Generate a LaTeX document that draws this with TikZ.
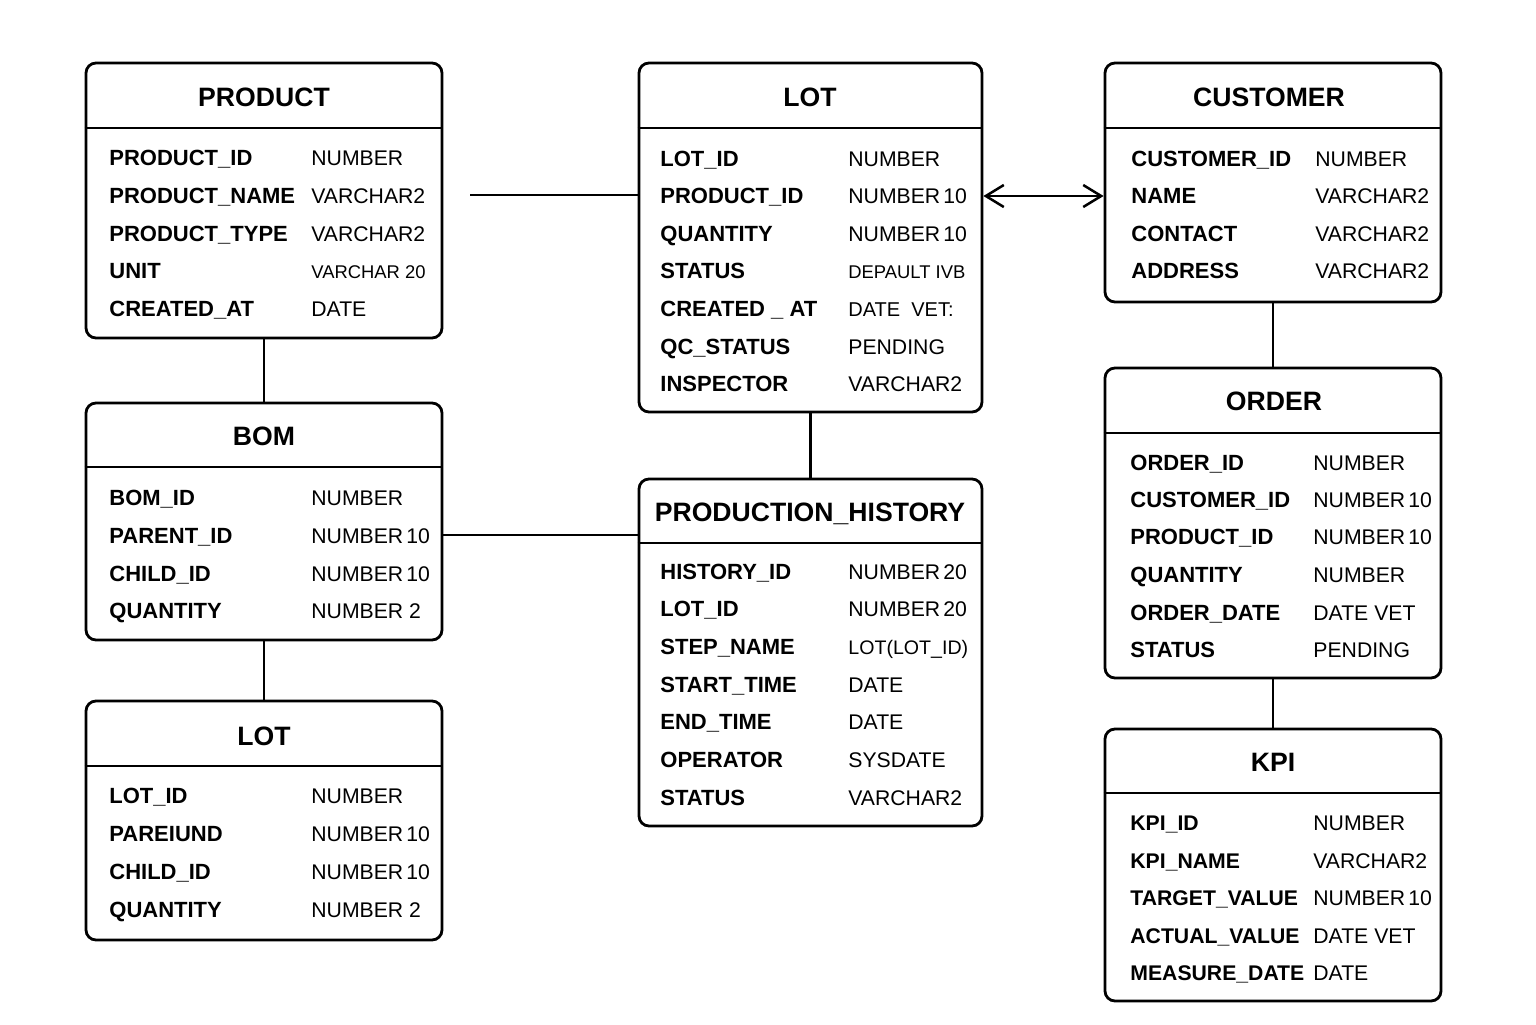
\documentclass[tikz,border=0pt]{standalone}
\usepackage{fontspec}
\setmainfont{Liberation Sans}
\usetikzlibrary{fit,arrows.meta}
\newcommand{\tsm}{\fontsize{9.2}{10}\selectfont}
\newcommand{\tmd}{\fontsize{10}{11}\selectfont}
\newcommand{\tlo}{\fontsize{9.8}{11}\selectfont}
\newcommand{\ksm}{\fontsize{10.6}{12}\selectfont}
\newcommand{\nten}{NUMBER\kern1.5pt 10}
\newcommand{\ntw}{NUMBER\kern1.5pt 20}
\tikzset{
  entbox/.style={draw, line width=1.4pt, rounded corners=5pt, inner sep=0pt},
  hline/.style={line width=1.4pt},
  ftitle/.style={font=\fontsize{13.3}{15}\selectfont\bfseries, anchor=base, inner sep=0pt},
  fname/.style={font=\fontsize{11}{13}\selectfont\bfseries, anchor=base west, inner sep=0pt},
  ftype/.style={font=\fontsize{10.6}{13}\selectfont, anchor=base west, inner sep=0pt},
  conn/.style={line width=1.25pt},
  biarrow/.style={conn, {Straight Barb[length=9pt,width=11pt,line width=1.25pt]}-{Straight Barb[length=9pt,width=11pt,line width=1.25pt]}}
}
\begin{document}
\begin{tikzpicture}[x=0.5pt,y=-0.5pt]
\useasboundingbox (0,0) rectangle (1536,1024);
\fill[white] (0,0) rectangle (1536,1024);

% ---------- PRODUCT ----------
\node[entbox, fit={(86,63) (442,338)}] (product) {};
\draw[hline] (product.west |- 0,128) -- (product.east |- 0,128);
\node[ftitle] (product-t) at (264,106) {PRODUCT};
\foreach \y/\n/\t [count=\i] in {157/PRODUCT\_ID/NUMBER, 195/PRODUCT\_NAME/VARCHAR2, 233/PRODUCT\_TYPE/VARCHAR2, 270/UNIT/{\tsm VARCHAR 20}, 308/CREATED\_AT/DATE}{
  \node[fname] (product-n\i) at (109,\y+8) {\n};
  \node[ftype] (product-y\i) at (311,\y+8) {\t};
}

% ---------- BOM ----------
\node[entbox, fit={(86,403) (442,640)}] (bom) {};
\draw[hline] (bom.west |- 0,467) -- (bom.east |- 0,467);
\node[ftitle] (bom-t) at (264,445) {BOM};
\foreach \y/\n/\t [count=\i] in {497/BOM\_ID/NUMBER, 535/PARENT\_ID/\nten, 573/CHILD\_ID/\nten, 610/QUANTITY/NUMBER 2}{
  \node[fname] (bom-n\i) at (109,\y+8) {\n};
  \node[ftype] (bom-y\i) at (311,\y+8) {\t};
}

% ---------- LOT (bottom left) ----------
\node[entbox, fit={(86,701) (442,940)}] (lotb) {};
\draw[hline] (lotb.west |- 0,766) -- (lotb.east |- 0,766);
\node[ftitle] (lotb-t) at (264,745) {LOT};
\foreach \y/\n/\t [count=\i] in {795/LOT\_ID/NUMBER, 833/PAREIUND/\nten, 871/CHILD\_ID/\nten, 909/QUANTITY/NUMBER 2}{
  \node[fname] (lotb-n\i) at (109,\y+8) {\n};
  \node[ftype] (lotb-y\i) at (311,\y+8) {\t};
}

% ---------- LOT (top middle) ----------
\node[entbox, fit={(639,63) (982,412)}] (lot) {};
\draw[hline] (lot.west |- 0,128) -- (lot.east |- 0,128);
\node[ftitle] (lot-t) at (810,106) {LOT};
\foreach \y/\n/\t [count=\i] in {158/LOT\_ID/NUMBER, 195/PRODUCT\_ID/\nten, 233/QUANTITY/\nten, 270/STATUS/{\tsm DEPAULT IVB}, 308/CREATED \_ AT/{\tmd DATE\ \ VET:}, 346/QC\_STATUS/PENDING, 383/INSPECTOR/VARCHAR2}{
  \node[fname] (lot-n\i) at (660,\y+8) {\n};
  \node[ftype] (lot-y\i) at (848,\y+8) {\t};
}

% ---------- PRODUCTION_HISTORY ----------
\node[entbox, fit={(639,479) (982,826)}] (ph) {};
\draw[hline] (ph.west |- 0,543) -- (ph.east |- 0,543);
\node[ftitle] (ph-t) at (810,521) {PRODUCTION\_HISTORY};
\foreach \y/\n/\t [count=\i] in {571/HISTORY\_ID/\ntw, 608/LOT\_ID/\ntw, 646/STEP\_NAME/{\tlo LOT(LOT\_ID)}, 684/START\_TIME/DATE, 721/END\_TIME/DATE, 759/OPERATOR/SYSDATE, 797/STATUS/VARCHAR2}{
  \node[fname] (ph-n\i) at (660,\y+8) {\n};
  \node[ftype] (ph-y\i) at (848,\y+8) {\t};
}

% ---------- CUSTOMER ----------
\node[entbox, fit={(1105,63) (1441,302)}] (customer) {};
\draw[hline] (customer.west |- 0,128) -- (customer.east |- 0,128);
\node[ftitle] (customer-t) at (1269,106) {CUSTOMER};
\foreach \y/\n/\t [count=\i] in {158/CUSTOMER\_ID/NUMBER, 195/NAME/VARCHAR2, 233/CONTACT/VARCHAR2, 270/ADDRESS/VARCHAR2}{
  \node[fname] (customer-n\i) at (1131,\y+8) {\n};
  \node[ftype] (customer-y\i) at (1315,\y+8) {\t};
}

% ---------- ORDER ----------
\node[entbox, fit={(1105,368) (1441,678)}] (order) {};
\draw[hline] (order.west |- 0,433) -- (order.east |- 0,433);
\node[ftitle] (order-t) at (1274,410) {ORDER};
\foreach \y/\n/\t [count=\i] in {462/ORDER\_ID/NUMBER, 499/CUSTOMER\_ID/\nten, 536/PRODUCT\_ID/\nten, 574/QUANTITY/NUMBER, 612/ORDER\_DATE/DATE VET, 649/STATUS/PENDING}{
  \node[fname] (order-n\i) at (1130,\y+8) {\n};
  \node[ftype] (order-y\i) at (1313,\y+8) {\t};
}

% ---------- KPI ----------
\node[entbox, fit={(1105,729) (1441,1001)}] (kpi) {};
\draw[hline] (kpi.west |- 0,793) -- (kpi.east |- 0,793);
\node[ftitle] (kpi-t) at (1273,771) {KPI};
\foreach \y/\n/\t [count=\i] in {822/KPI\_ID/NUMBER, 860/KPI\_NAME/VARCHAR2, 897/TARGET\_VALUE/\nten, 935/ACTUAL\_VALUE/DATE VET, 972/MEASURE\_DATE/DATE}{
  \node[fname, font=\ksm\bfseries] (kpi-n\i) at (1130,\y+8) {\n};
  \node[ftype] (kpi-y\i) at (1313,\y+8) {\t};
}

% ---------- connectors ----------
\coordinate (pl) at (470,195);
\coordinate (c1) at (0,535);
\coordinate (c2) at (0,196);
\draw[conn] (product.south) -- (bom.north);
\draw[conn] (bom.south) -- (lotb.north);
\draw[conn] (pl) -- (lot.west |- pl);
\draw[conn] (bom.east |- c1) -- (ph.west |- c1);
\draw[conn] (lot.south) -- (ph.north);
\draw[biarrow] (lot.east |- c2) -- (customer.west |- c2);
\draw[conn] (customer.south) -- (order.north);
\draw[conn] (order.south) -- (kpi.north);
\end{tikzpicture}
\end{document}
